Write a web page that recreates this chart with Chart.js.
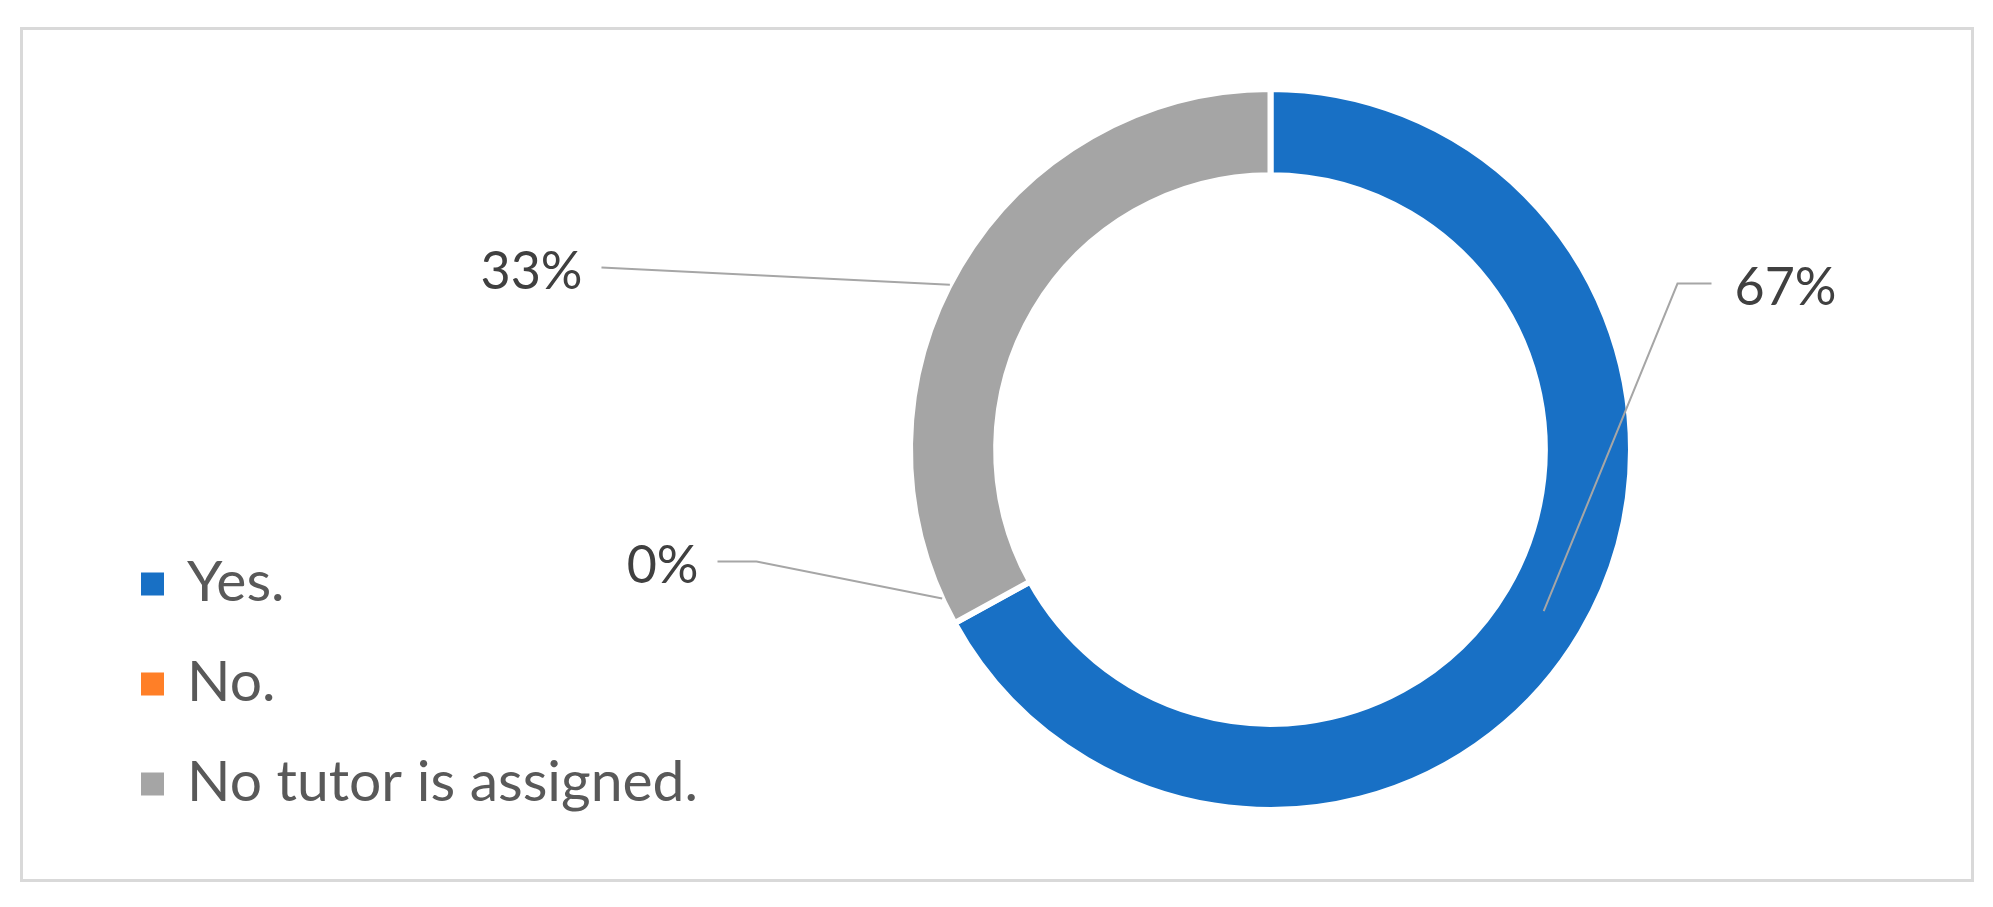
<!DOCTYPE html>
<html>
<head>
<meta charset="utf-8">
<script src="https://cdn.jsdelivr.net/npm/chart.js@4.4.1/dist/chart.umd.min.js"></script>
<style>
  html, body { margin: 0; padding: 0; background: #ffffff; }
  canvas { display: block; }
</style>
</head>
<body>
<canvas id="donut" width="1993" height="907"></canvas>
<script>
"use strict";

// data
const categories = ["Yes.", "No.", "No tutor is assigned."];
const shares = [67, 0, 33];
const pctLabels = ["67%", "0%", "33%"];
const sliceColors = ["#1870c5", "#ff7f27", "#a5a5a5"];

// where each percentage label sits (offsets from the donut centre)
const labelSpots = [
  { ring: 0.5, nudge: 0, elbow: [407, -166], tail: 34, align: "left" },
  { ring: 1.0, nudge: 4.4, elbow: [-514, 112], tail: -39, align: "right" },
  { ring: 1.0, nudge: -3.4, elbow: [-669, -182], tail: 0, align: "right" },
];

const LABEL_FONT = "52px Lato, 'Open Sans', sans-serif";
const LEGEND_FONT = "57px Lato, 'Open Sans', sans-serif";

// outer grey frame
const framePlugin = {
  id: "frame",
  beforeDraw(chart) {
    const ctx = chart.ctx;
    ctx.save();
    ctx.fillStyle = "#ffffff";
    ctx.fillRect(0, 0, chart.width, chart.height);
    ctx.strokeStyle = "#d9d9d9";
    ctx.lineWidth = 3;
    ctx.strokeRect(21.5, 28.5, 1951, 852);
    ctx.restore();
  },
};

// leader lines + percentages
const leaderPlugin = {
  id: "leaders",
  afterDatasetsDraw(chart) {
    const ctx = chart.ctx;
    const arcs = chart.getDatasetMeta(0).data;
    ctx.save();
    ctx.font = LABEL_FONT;
    arcs.forEach((arc, i) => {
      const p = arc.getProps(["x", "y", "startAngle", "endAngle", "innerRadius", "outerRadius"], true);
      const spot = labelSpots[i];
      const mid = (p.startAngle + p.endAngle) / 2 + (spot.nudge * Math.PI) / 180;
      const r = p.innerRadius + (p.outerRadius - p.innerRadius) * spot.ring;
      const ax = p.x + Math.cos(mid) * r;
      const ay = p.y + Math.sin(mid) * r;
      const ex = p.x + spot.elbow[0];
      const ey = p.y + spot.elbow[1];

      ctx.strokeStyle = "#a6a6a6";
      ctx.lineWidth = 2;
      ctx.beginPath();
      ctx.moveTo(ax, ay);
      ctx.lineTo(ex, ey);
      ctx.lineTo(ex + spot.tail, ey);
      ctx.stroke();

      ctx.fillStyle = "#404040";
      ctx.textBaseline = "alphabetic";
      ctx.textAlign = spot.align;
      const tx = spot.align === "left" ? ex + spot.tail + 23 : ex + spot.tail - 19;
      ctx.fillText(pctLabels[i], tx, ey + 21);
    });
    ctx.restore();
  },
};

// legend in the lower left
const legendPlugin = {
  id: "sideLegend",
  afterDraw(chart) {
    const ctx = chart.ctx;
    ctx.save();
    ctx.font = LEGEND_FONT;
    ctx.textBaseline = "alphabetic";
    ctx.textAlign = "left";
    categories.forEach((name, i) => {
      const cy = 584 + i * 100;
      ctx.fillStyle = sliceColors[i];
      ctx.fillRect(141, cy - 11.5, 23, 23);
      ctx.fillStyle = "#595959";
      ctx.fillText(name, 187, cy + 17);
    });
    ctx.restore();
  },
};

new Chart(document.getElementById("donut"), {
  type: "doughnut",
  data: {
    labels: categories,
    datasets: [
      {
        data: shares,
        backgroundColor: sliceColors,
        borderColor: "#ffffff",
        borderWidth: 6,
        hoverOffset: 0,
      },
    ],
  },
  options: {
    responsive: false,
    animation: false,
    cutout: "76.1%",
    layout: { padding: { left: 907, right: 359, top: 86, bottom: 94 } },
    plugins: {
      legend: { display: false },
      tooltip: { enabled: false },
    },
  },
  plugins: [framePlugin, leaderPlugin, legendPlugin],
});
</script>
</body>
</html>
